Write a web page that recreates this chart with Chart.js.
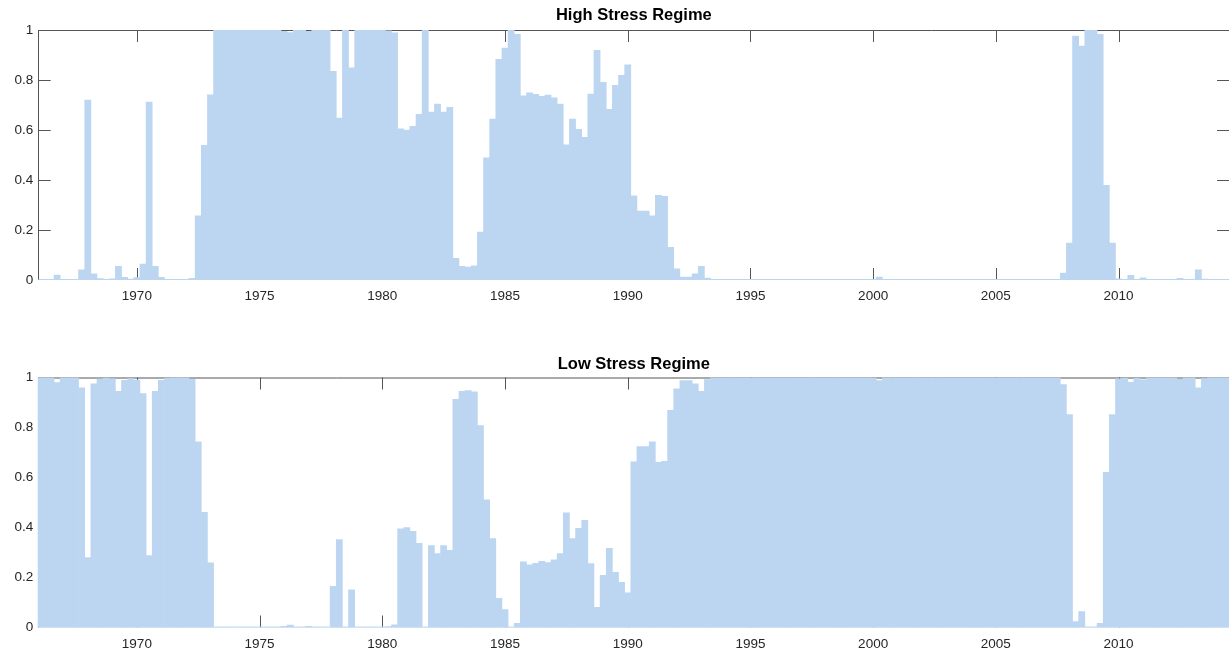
<!DOCTYPE html>
<html>
<head>
<meta charset="utf-8">
<title>Regime probabilities</title>
<script src="https://cdn.jsdelivr.net/npm/chart.js@4.4.1/dist/chart.umd.min.js"></script>
<style>
  html, body { margin: 0; padding: 0; background: #ffffff; overflow: hidden; width: 1229px; height: 655px; }
  .panel { position: absolute; left: 0; width: 1229px; }
  #panelHigh { top: 0; height: 327px; }
  #panelLow { top: 327px; height: 328px; }
  canvas { display: block; }
</style>
</head>
<body>
<div class="panel" id="panelHigh"><canvas id="chartHigh" width="1229" height="327"></canvas></div>
<div class="panel" id="panelLow"><canvas id="chartLow" width="1229" height="328"></canvas></div>
<script>
// Quarterly observations, 1966Q1 onwards (decimal year of each quarter)
const firstYear = 1966;
const quarterCount = 195;
const periods = [];
for (let i = 0; i < quarterCount; i++) periods.push(firstYear + i / 4);

// Smoothed probability of the high stress regime, one value per quarter
const highStress = [
  0, 0, 0, 0.02, 0, 0, 0, 0.041, 0.72, 0.025,                          // 1966.00
  0.006, 0.002, 0.005, 0.055, 0.011, 0.004, 0.01, 0.064, 0.712, 0.055, // 1968.50
  0.011, 0.002, 0, 0, 0, 0.007, 0.257, 0.539, 0.741, 1,                // 1971.00
  1, 1, 1, 1, 1, 1, 1, 1, 1, 1,                                        // 1973.50
  0.995, 0.99, 1, 1, 0.995, 1, 1, 1, 0.835, 0.648,                     // 1976.00
  1, 0.849, 1, 1, 1, 1, 1, 0.997, 0.989, 0.605,                        // 1978.50
  0.6, 0.615, 0.663, 1, 0.672, 0.704, 0.672, 0.691, 0.087, 0.055,      // 1981.00
  0.052, 0.057, 0.192, 0.489, 0.644, 0.883, 0.928, 1, 0.983, 0.737,    // 1983.50
  0.749, 0.743, 0.735, 0.74, 0.729, 0.704, 0.541, 0.644, 0.603, 0.571, // 1986.00
  0.744, 0.919, 0.791, 0.683, 0.779, 0.819, 0.861, 0.337, 0.276, 0.276,// 1988.50
  0.257, 0.339, 0.335, 0.131, 0.045, 0.012, 0.012, 0.025, 0.055, 0.008,// 1991.00
  0, 0, 0, 0, 0, 0, 0, 0, 0, 0,                                        // 1993.50
  0, 0, 0, 0, 0, 0, 0, 0, 0, 0,                                        // 1996.00
  0, 0, 0, 0, 0, 0, 0, 0.012, 0, 0,                                    // 1998.50
  0, 0, 0, 0, 0, 0, 0, 0, 0, 0,                                        // 2001.00
  0, 0, 0, 0, 0, 0, 0, 0, 0, 0,                                        // 2003.50
  0, 0, 0, 0, 0, 0, 0, 0.028, 0.148, 0.976,                            // 2006.00
  0.936, 1, 1, 0.983, 0.379, 0.148, 0.005, 0.003, 0.019, 0.003,        // 2008.50
  0.009, 0, 0, 0, 0, 0, 0.007, 0, 0, 0.041,                            // 2011.00
  0.004, 0, 0, 0, 0                                                    // 2013.50
];

// Smoothed probability of the low stress regime, one value per quarter
const lowStress = [
  1, 1, 1, 0.98, 1, 1, 1, 0.959, 0.28, 0.975,                          // 1966.00
  0.994, 0.998, 0.995, 0.945, 0.989, 0.996, 0.99, 0.936, 0.288, 0.945, // 1968.50
  0.989, 0.998, 1, 1, 1, 0.993, 0.743, 0.461, 0.259, 0,                // 1971.00
  0, 0, 0, 0, 0, 0, 0, 0, 0, 0,                                        // 1973.50
  0.005, 0.01, 0, 0, 0.005, 0, 0, 0, 0.165, 0.352,                     // 1976.00
  0, 0.151, 0, 0, 0, 0, 0, 0.003, 0.011, 0.395,                        // 1978.50
  0.4, 0.385, 0.337, 0, 0.328, 0.296, 0.328, 0.309, 0.913, 0.945,      // 1981.00
  0.948, 0.943, 0.808, 0.511, 0.356, 0.117, 0.072, 0, 0.017, 0.263,    // 1983.50
  0.251, 0.257, 0.265, 0.26, 0.271, 0.296, 0.459, 0.356, 0.397, 0.429, // 1986.00
  0.256, 0.081, 0.209, 0.317, 0.221, 0.181, 0.139, 0.663, 0.724, 0.724,// 1988.50
  0.743, 0.661, 0.665, 0.869, 0.955, 0.988, 0.988, 0.975, 0.945, 0.992,// 1991.00
  1, 1, 1, 1, 1, 1, 1, 1, 1, 1,                                        // 1993.50
  1, 1, 1, 1, 1, 1, 1, 1, 1, 1,                                        // 1996.00
  1, 1, 1, 1, 1, 1, 1, 0.988, 1, 1,                                    // 1998.50
  1, 1, 1, 1, 1, 1, 1, 1, 1, 1,                                        // 2001.00
  1, 1, 1, 1, 1, 1, 1, 1, 1, 1,                                        // 2003.50
  1, 1, 1, 1, 1, 1, 1, 0.972, 0.852, 0.024,                            // 2006.00
  0.064, 0, 0, 0.017, 0.621, 0.852, 0.995, 0.997, 0.981, 0.997,        // 2008.50
  0.991, 1, 1, 1, 1, 1, 0.993, 1, 1, 0.959,                            // 2011.00
  0.996, 1, 1, 1, 1                                                    // 2013.50
];

// Axis ticks and titles
const yearTicks = [1970, 1975, 1980, 1985, 1990, 1995, 2000, 2005, 2010];
const probTicks = [0, 0.2, 0.4, 0.6, 0.8, 1];
const panelTitles = ['High Stress Regime', 'Low Stress Regime'];

const BAR_COLOR = '#bcd6f2';
const TEXT_COLOR = '#262626';
const FONT = '"Liberation Sans", Arial, Helvetica, sans-serif';

// Axes box with inward tick marks, painted underneath the bars;
// the zero baseline is laid over the ticks in the bar colour
const axesFrame = {
  id: 'axesFrame',
  beforeDatasetsDraw(chart, args, o) {
    const { ctx, chartArea: a, scales: { x, y } } = chart;
    const L = a.left, R = a.right, T = a.top, B = a.bottom;
    const len = o.tickLength;
    const seg = (x1, y1, x2, y2) => { ctx.beginPath(); ctx.moveTo(x1, y1); ctx.lineTo(x2, y2); ctx.stroke(); };
    ctx.save();
    ctx.lineWidth = 1;
    ctx.strokeStyle = o.color;
    seg(L, T + o.topOffset, R, T + o.topOffset);
    const lx = Math.floor(L) + 0.5;
    seg(lx, T, lx, B);
    yearTicks.forEach(v => {
      const px = Math.round(x.getPixelForValue(v)) + 0.5;
      seg(px, T, px, T + len);
      seg(px, B, px, B - len);
    });
    probTicks.filter(v => v > 0 && v < 1).forEach(v => {
      const py = Math.round(y.getPixelForValue(v)) + 0.5;
      seg(L, py, L + len, py);
      seg(R - len, py, R, py);
    });
    ctx.strokeStyle = o.baseColor;
    seg(L, B - 0.5, R, B - 0.5);
    ctx.restore();
  }
};

function makePanel(canvasId, title, values, lay) {
  return new Chart(document.getElementById(canvasId), {
    type: 'bar',
    data: {
      datasets: [{
        data: periods.map((p, i) => ({ x: p, y: values[i] })),
        backgroundColor: BAR_COLOR,
        borderWidth: 0,
        barPercentage: 1,
        categoryPercentage: 1,
        clip: { left: 1, top: 0, right: 0, bottom: 0 }
      }]
    },
    plugins: [axesFrame],
    options: {
      responsive: false,
      animation: false,
      devicePixelRatio: 1,
      layout: { padding: 0, autoPadding: false },
      scales: {
        x: {
          type: 'linear',
          min: 1966,
          max: 2014.5,
          offset: false,
          grid: { display: false, drawTicks: false },
          border: { display: false },
          afterBuildTicks: s => { s.ticks = yearTicks.map(v => ({ value: v })); },
          afterFit: s => { s.height = lay.xAxisHeight; },
          ticks: {
            autoSkip: false, maxRotation: 0, minRotation: 0,
            padding: 8.4, color: TEXT_COLOR,
            font: { family: FONT, size: 13.5 },
            callback: v => String(v)
          }
        },
        y: {
          type: 'linear',
          min: 0,
          max: 1,
          grid: { display: false, drawTicks: false },
          border: { display: false },
          afterBuildTicks: s => { s.ticks = probTicks.map(v => ({ value: v })); },
          afterFit: s => { s.width = 38.7; },
          ticks: {
            padding: 5.5, color: TEXT_COLOR,
            font: { family: FONT, size: 13.5 },
            callback: v => String(v)
          }
        }
      },
      plugins: {
        legend: { display: false },
        tooltip: { enabled: false },
        title: {
          display: true,
          text: title,
          fullSize: false,
          color: '#000000',
          font: { family: FONT, size: 16.5, weight: 'bold', lineHeight: 1.2 },
          padding: { top: lay.titleTop, bottom: lay.titleBottom }
        },
        axesFrame: { color: '#555555', baseColor: BAR_COLOR, tickLength: 12, topOffset: 0.5 }
      }
    }
  });
}

makePanel('chartHigh', panelTitles[0], highStress, { titleTop: 5.9, titleBottom: 4.3, xAxisHeight: 47 });
makePanel('chartLow', panelTitles[1], lowStress, { titleTop: 27.9, titleBottom: 2.8, xAxisHeight: 27.5 });
</script>
</body>
</html>
